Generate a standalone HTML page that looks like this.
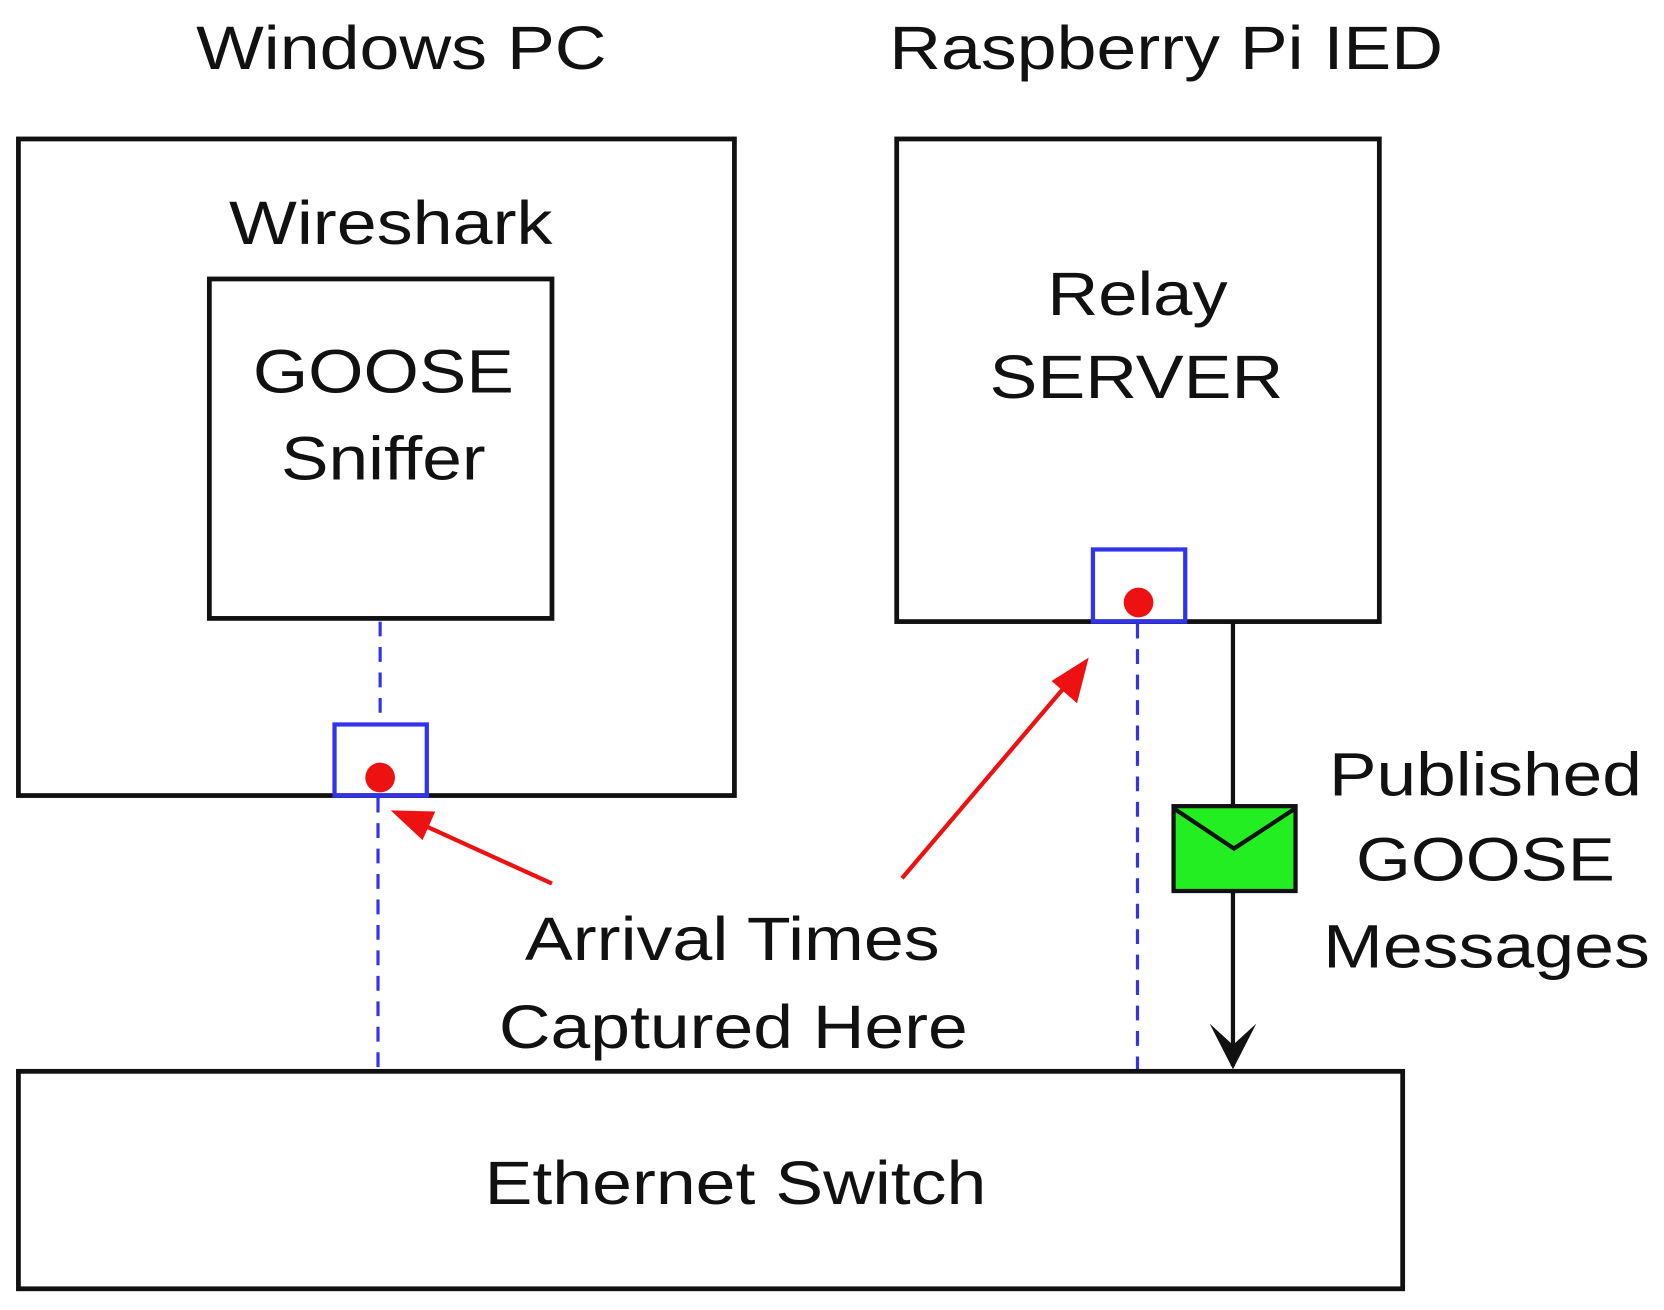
<!DOCTYPE html>
<html><head><style>html,body{margin:0;padding:0;background:#fff}svg{display:block}</style></head>
<body>
<svg width="1664" height="1310" viewBox="0 0 1568 1235" xmlns="http://www.w3.org/2000/svg" font-family="Liberation Sans, Arial, sans-serif" font-size="58" fill="#111">
<text x="378" y="65" text-anchor="middle" textLength="387" lengthAdjust="spacingAndGlyphs">Windows PC</text>
<text x="1099" y="65" text-anchor="middle" textLength="522" lengthAdjust="spacingAndGlyphs">Raspberry Pi IED</text>
<rect x="17" y="131" width="675" height="619" fill="none" stroke="#111" stroke-width="4.5"/>
<text x="368" y="230" text-anchor="middle" textLength="305" lengthAdjust="spacingAndGlyphs">Wireshark</text>
<rect x="197" y="263" width="323" height="320" fill="none" stroke="#111" stroke-width="4.5"/>
<text x="361" y="370" text-anchor="middle" textLength="246" lengthAdjust="spacingAndGlyphs">GOOSE</text>
<text x="361" y="452" text-anchor="middle" textLength="193" lengthAdjust="spacingAndGlyphs">Sniffer</text>
<rect x="845" y="131" width="455" height="455" fill="none" stroke="#111" stroke-width="4.5"/>
<text x="1072" y="297" text-anchor="middle" textLength="170" lengthAdjust="spacingAndGlyphs">Relay</text>
<text x="1071" y="375" text-anchor="middle" textLength="277" lengthAdjust="spacingAndGlyphs">SERVER</text>
<g stroke="#3333ee" stroke-width="3" stroke-dasharray="14,10" fill="none">
<line x1="358" y1="586" x2="358" y2="683"/>
<line x1="356" y1="752" x2="356" y2="1010"/>
<line x1="1072" y1="588" x2="1072" y2="1010"/>
</g>
<rect x="1030" y="518" width="87" height="68" fill="none" stroke="#3333ee" stroke-width="4"/>
<circle cx="1073" cy="568" r="14" fill="#ee1111"/>
<rect x="315" y="683" width="87" height="67" fill="none" stroke="#3333ee" stroke-width="4"/>
<circle cx="358" cy="733" r="14" fill="#ee1111"/>
<line x1="1162" y1="586" x2="1162" y2="1005" stroke="#111" stroke-width="4"/>
<path d="M1140,965 L1162,1008 L1184,965 L1162,985 z" fill="#111"/>
<rect x="1106" y="760" width="115" height="80" fill="#22ee22" stroke="#111" stroke-width="4"/>
<path d="M1106,762 L1163,800 L1221,762" fill="none" stroke="#111" stroke-width="4"/>
<text x="1400" y="750" text-anchor="middle" textLength="295" lengthAdjust="spacingAndGlyphs">Published</text>
<text x="1400" y="830" text-anchor="middle" textLength="244" lengthAdjust="spacingAndGlyphs">GOOSE</text>
<text x="1401" y="912" text-anchor="middle" textLength="308" lengthAdjust="spacingAndGlyphs">Messages</text>
<line x1="520" y1="833" x2="375" y2="767" stroke="#ee1111" stroke-width="4"/>
<path d="M368,764 L410,765 L398,792 z" fill="#ee1111"/>
<line x1="850" y1="828" x2="1020" y2="628" stroke="#ee1111" stroke-width="4"/>
<path d="M1026,620 L1015,663 L991,642 z" fill="#ee1111"/>
<text x="690" y="905" text-anchor="middle" textLength="391" lengthAdjust="spacingAndGlyphs">Arrival Times</text>
<text x="691" y="988" text-anchor="middle" textLength="442" lengthAdjust="spacingAndGlyphs">Captured Here</text>
<rect x="17" y="1010" width="1305" height="205" fill="none" stroke="#111" stroke-width="4.5"/>
<text x="693" y="1135" text-anchor="middle" textLength="473" lengthAdjust="spacingAndGlyphs">Ethernet Switch</text>
</svg>
</body></html>
